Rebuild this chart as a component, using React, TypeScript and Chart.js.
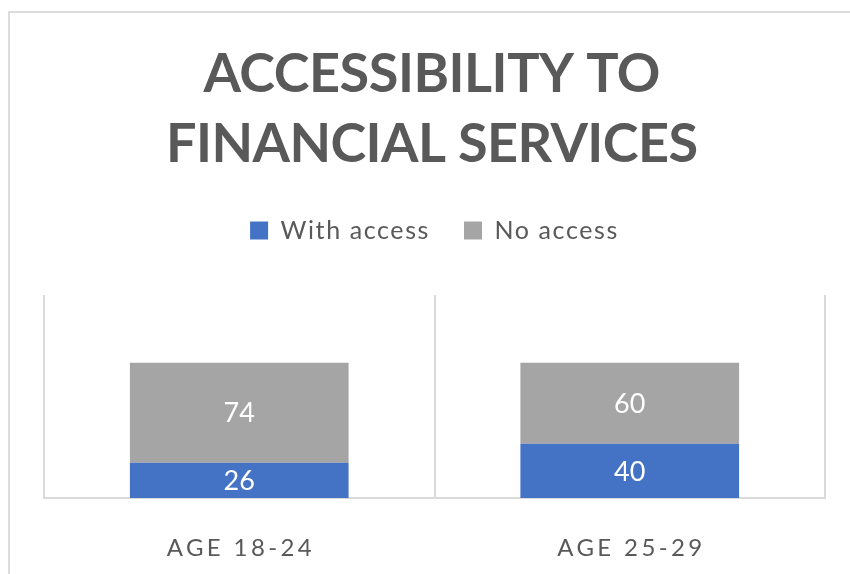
import { useEffect, useRef } from 'react';
import { Chart, registerables } from 'chart.js';

Chart.register(...registerables);

// ---- data ----
const titleLines = ['ACCESSIBILITY TO', 'FINANCIAL SERVICES'];
const categories = ['AGE 18-24', 'AGE 25-29'];
const seriesNames = ['With access', 'No access'];
const withAccess = [26, 40];
const noAccess = [74, 60];
const yMax = 150;

// ---- styles ----
const BLUE = '#4472C4';
const GRAY = '#A5A5A5';
const TEXT = '#595959';
const LINE = '#DADADA';
const FONT = 'Lato';

function drawSpaced(ctx: CanvasRenderingContext2D, text: string, cx: number, y: number, targetW: number, font: string, color: string) {
  ctx.save();
  ctx.font = font;
  (ctx as any).letterSpacing = '0px';
  const w = ctx.measureText(text).width;
  const ls = (targetW - w) / (text.length - 1);
  (ctx as any).letterSpacing = ls + 'px';
  ctx.textAlign = 'left';
  ctx.textBaseline = 'alphabetic';
  ctx.fillStyle = color;
  ctx.fillText(text, cx - targetW / 2, y);
  ctx.restore();
}

const LEGEND_SPACING = '1.6px';

const decor = {
  id: 'decor',
  beforeLayout(chart: any) {
    chart.ctx.letterSpacing = LEGEND_SPACING;
  },
  beforeDraw(chart: any) {
    const ctx = chart.ctx as CanvasRenderingContext2D;
    ctx.save();
    ctx.fillStyle = '#ffffff';
    ctx.fillRect(0, 0, chart.width, chart.height);
    ctx.fillStyle = '#DCDCDC';
    ctx.fillRect(8, 11, chart.width - 8, 2);
    ctx.fillRect(8, 11, 2, chart.height - 11);
    ctx.restore();
    (ctx as any).letterSpacing = LEGEND_SPACING;
  },
  afterDatasetsDraw(chart: any) {
    const ctx = chart.ctx as CanvasRenderingContext2D;
    ctx.save();
    (ctx as any).letterSpacing = '0px';
    const size = 27;
    ctx.font = `${size}px ${FONT}`;
    ctx.fillStyle = '#ffffff';
    ctx.textAlign = 'center';
    ctx.textBaseline = 'alphabetic';
    chart.data.datasets.forEach((ds: any, di: number) => {
      const meta = chart.getDatasetMeta(di);
      meta.data.forEach((bar: any, i: number) => {
        const { x, y, base } = bar.getProps(['x', 'y', 'base'], true);
        ctx.fillText(String(ds.data[i]), x, (y + base) / 2 + size * 0.36);
      });
    });
    ctx.restore();
  },
  afterDraw(chart: any) {
    const ctx = chart.ctx as CanvasRenderingContext2D;
    drawSpaced(ctx, titleLines[0], 432, 92, 457, `bold 54px ${FONT}`, TEXT);
    drawSpaced(ctx, titleLines[1], 432, 162, 532, `bold 54px ${FONT}`, TEXT);
    const xs = chart.scales.x;
    const bottom = chart.chartArea.bottom;
    categories.forEach((c, i) => {
      drawSpaced(ctx, c, xs.getPixelForValue(i), bottom + 58, 145, `24px ${FONT}`, TEXT);
    });
  },
};

export default function App() {
  const ref = useRef<HTMLCanvasElement>(null);
  useEffect(() => {
    if (!ref.current) return;
    const chart = new Chart(ref.current, {
      type: 'bar',
      data: {
        labels: categories,
        datasets: [
          { label: seriesNames[0], data: withAccess, backgroundColor: BLUE, borderWidth: 0 },
          { label: seriesNames[1], data: noAccess, backgroundColor: GRAY, borderWidth: 0 },
        ],
      },
      options: {
        animation: false,
        responsive: false,
        categoryPercentage: 0.56,
        barPercentage: 1,
        layout: { padding: { top: 184, left: 44, right: 25, bottom: 0 } },
        plugins: {
          legend: {
            position: 'top',
            labels: {
              font: { family: FONT, size: 25 },
              color: TEXT,
              boxWidth: 18,
              boxHeight: 18,
              padding: 34,
            },
          },
          title: { display: false },
          tooltip: { enabled: false },
        },
        scales: {
          x: {
            stacked: true,
            grid: { color: LINE, lineWidth: 2, drawTicks: false, offset: true },
            border: { color: LINE, width: 2 },
            ticks: { display: false },
            afterFit: (s: any) => { s.height = 76; },
          },
          xTop: {
            type: 'category',
            position: 'top',
            grid: { display: false },
            border: { display: false },
            ticks: { display: false },
            afterFit: (s: any) => { s.height = 42; },
          },
          y: { stacked: true, display: false, min: 0, max: yMax },
        },
      } as any,
      plugins: [decor],
    });
    return () => chart.destroy();
  }, []);
  return (
    <div style={{ position: 'absolute', left: 0, top: 0, width: 850, height: 574 }}>
      <canvas ref={ref} width={850} height={574} style={{ display: 'block' }} />
    </div>
  );
}
